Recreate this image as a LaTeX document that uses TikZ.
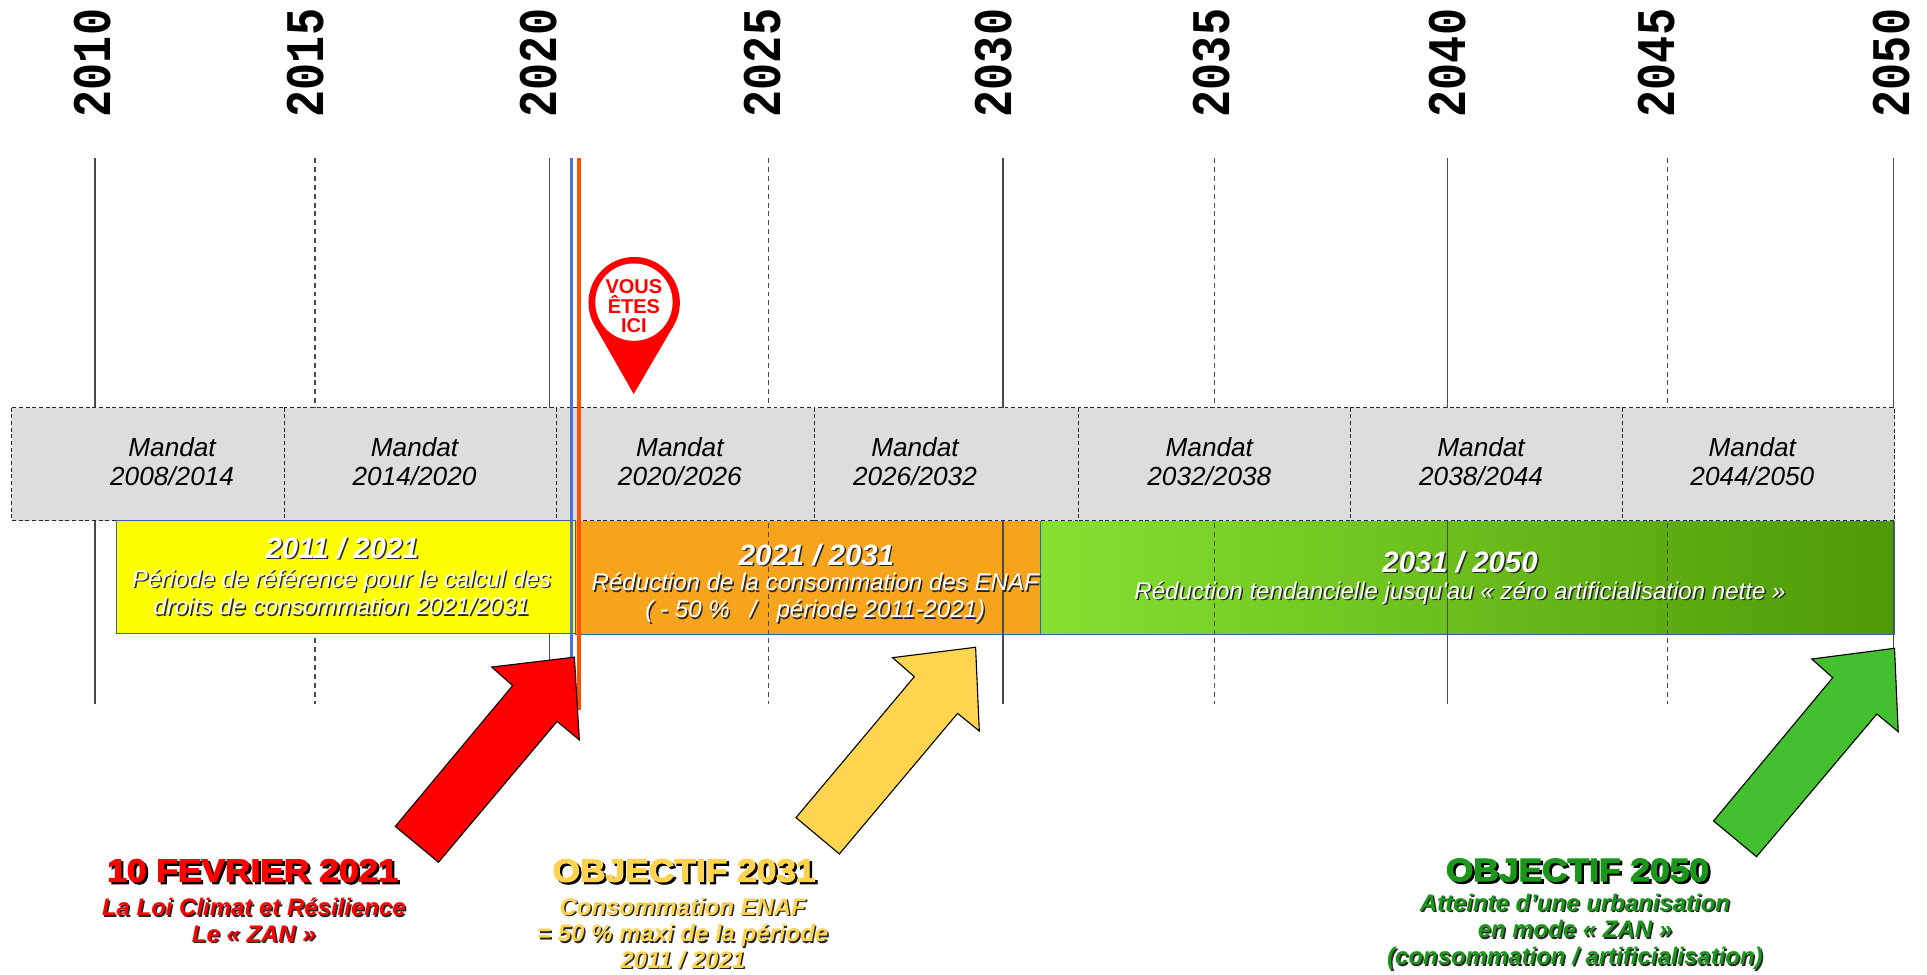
\documentclass[tikz,border=0pt]{standalone}
\usepackage{fontspec}
\setmainfont{Liberation Sans}
\newfontfamily\yearfam{Liberation Mono}
\newfontfamily\heavyfam{Liberation Sans Bold}[FakeBold=3.5]
\newcommand\setfs[2]{\fontsize{#1}{#2}\selectfont}
\definecolor{grayfill}{HTML}{DDDDDD}
\definecolor{ylw}{HTML}{FFFF00}
\definecolor{orng}{HTML}{F7A41D}
\definecolor{grnL}{HTML}{86E031}
\definecolor{grnR}{HTML}{4E9A06}
\definecolor{bordc}{HTML}{3465A4}
\definecolor{blueln}{HTML}{4A72E6}
\definecolor{orangeln}{HTML}{FF5000}
\definecolor{pinred}{HTML}{FF0000}
\definecolor{arrred}{HTML}{FF0000}
\definecolor{arrylw}{HTML}{FFD54F}
\definecolor{arrgrn}{HTML}{43BF30}
\definecolor{txtred}{HTML}{FF0000}
\definecolor{txtylw}{HTML}{FFD34E}
\definecolor{txtgrn}{HTML}{1A961A}
\definecolor{linec}{HTML}{4A4A4A}
\tikzset{
  yearlbl/.style={font=\yearfam\bfseries\setfs{22}{22}, rotate=90, xscale=0.83, inner sep=0pt},
  yline/.style={draw=linec, line width=0.6pt},
  ydash/.style={yline, dash pattern=on 2pt off 1.6pt},
  cell/.style={fill=grayfill, draw=black!85, line width=0.4pt, dash pattern=on 1.6pt off 1.1pt},
  mandat/.style={font=\itshape\setfs{10.6}{12}, align=center, inner sep=0pt},
  btitle/.style={font=\bfseries\itshape\setfs{11.9}{13}, text=white, inner sep=0pt},
  bsub/.style={font=\itshape\setfs{9.75}{11}, text=white, align=center, inner sep=0pt},
  shad/.style={text=black!85, xshift=0.6pt, yshift=-0.6pt},
  boxline/.style={draw=bordc, line width=0.4pt},
  blockarrow/.style={draw=black, line width=0.45pt, line join=miter},
  bigtitle/.style={font=\heavyfam\setfs{13}{13}, xscale=1.1, inner sep=0pt},
  bigsub/.style={font=\bfseries\itshape\setfs{9.7}{10.8}, align=center, inner sep=0pt},
  bigshad/.style={text=black, xshift=0.9pt, yshift=-0.9pt},
  pintext/.style={font=\bfseries\setfs{8.1}{7.8}, text=pinred, align=center, inner sep=0pt}
}
\begin{document}
\begin{tikzpicture}[x=0.5pt,y=-0.5pt]
\useasboundingbox (0,0) rectangle (1560,789);

% year labels
\foreach \yr/\xx in {2010/75,2015/247,2020/436,2025/617,2030/804,2035/981,2040/1172,2045/1341,2050/1531}
  \node[yearlbl] (y\yr) at (\xx,51) {\yr};

% orange and green period boxes (below the year lines)
\fill[orng] (466,421.5) rectangle (842,513.5);
\shade[left color=grnL, right color=grnR] (842,421.5) rectangle (1534,513.5);
\draw[boxline] (466,421.5) rectangle (842,513.5);
\draw[boxline] (842,421.5) rectangle (1534,513.5);

% year lines
\foreach \xx in {77,445,812,1172,1533}
  \draw[yline] (\xx,128) -- (\xx,570);
\foreach \xx in {255,622,983,1350}
  \draw[ydash] (\xx,128) -- (\xx,570);

% mandat cells
\foreach \a/\b in {9.4/230.3, 230.3/450.4, 450.4/659, 659/873, 873/1093, 1093/1313.4, 1313.4/1534}
  \draw[cell] (\a,330) rectangle (\b,421.5);

% yellow box
\filldraw[fill=ylw, boxline] (94,421.5) rectangle (466,513);

% today lines
\draw[draw=blueln, line width=1.25pt] (463,128) -- (463,532);
\draw[draw=orangeln, line width=1.5pt] (468.7,128) -- (468.7,575);

% mandat texts
\foreach \n/\xx/\t in {1/139.3/2008\slash 2014, 2/335.6/2014\slash 2020, 3/550.4/2020\slash 2026, 4/740.7/2026\slash 2032, 5/979/2032\slash 2038, 6/1199/2038\slash 2044, 7/1418.6/2044\slash 2050}
  \node[mandat] (m\n) at (\xx,373.8) {Mandat\\\t};

% box texts
\node[btitle, shad] at (277,443.5) {2011 / 2021};
\node[btitle] (t1) at (277,443.5) {2011 / 2021};
\node[bsub, shad] at (276.5,479.5) {Période de référence pour le calcul des\\droits de consommation 2021/2031};
\node[bsub] (s1) at (276.5,479.5) {Période de référence pour le calcul des\\droits de consommation 2021/2031};

\node[btitle, shad] at (661,449.3) {2021 / 2031};
\node[btitle] (t2) at (661,449.3) {2021 / 2031};
\node[bsub, shad] at (660,484) {Réduction de la consommation des ENAF\\( - 50 \%\ \ \ /\ \ \ période 2011-2021)};
\node[bsub] (s2) at (660,484) {Réduction de la consommation des ENAF\\( - 50 \%\ \ \ /\ \ \ période 2011-2021)};

\node[btitle, shad] at (1182,455) {2031 / 2050};
\node[btitle] (t3) at (1182,455) {2031 / 2050};
\node[bsub, shad] at (1182,480) {Réduction tendancielle jusqu\textquotesingle au « zéro artificialisation nette »};
\node[bsub] (s3) at (1182,480) {Réduction tendancielle jusqu\textquotesingle au « zéro artificialisation nette »};

% pin
\fill[pinred] (513.4,245) circle[radius=37];
\fill[pinred] (481.4,263.5) -- (513,319) -- (545.4,263.5) -- cycle;
\fill[white] (513.2,244.6) circle[radius=31.3];
\node[pintext] (pin) at (513.2,248) {VOUS\\ÊTES\\ICI};

% block arrows
\filldraw[fill=arrred, blockarrow] (465,532) -- (469,599) -- (451,584) -- (355,698) -- (320,669) -- (415,555) -- (398,540) -- cycle;
\filldraw[fill=arrylw, blockarrow] (789.8,524) -- (792.8,591.8) -- (775.2,577.5) -- (679.5,691.3) -- (644.4,661.9) -- (740.2,547.8) -- (722.6,532.4) -- cycle;
\filldraw[fill=arrgrn, blockarrow] (1533.7,524.8) -- (1536.7,592.3) -- (1519.4,578) -- (1422,693.5) -- (1387.2,664.6) -- (1483.7,548.6) -- (1466.7,533.5) -- cycle;

% bottom texts
\node[bigtitle, bigshad] at (204.5,704.8) {10 FEVRIER 2021};
\node[bigtitle, text=txtred] (b1) at (204.5,704.8) {10 FEVRIER 2021};
\node[bigsub, shad] at (205.5,745) {La Loi Climat et Résilience\\Le « ZAN »};
\node[bigsub, text=txtred] (c1) at (205.5,745) {La Loi Climat et Résilience\\Le « ZAN »};

\node[bigtitle, bigshad] at (553.8,704.8) {OBJECTIF 2031};
\node[bigtitle, text=txtylw] (b2) at (553.8,704.8) {OBJECTIF 2031};
\node[bigsub, shad] at (552.7,755.5) {Consommation ENAF\\= 50 \% maxi de la période\\2011 / 2021};
\node[bigsub, text=txtylw] (c2) at (552.7,755.5) {Consommation ENAF\\= 50 \% maxi de la période\\2011 / 2021};

\node[bigtitle, bigshad] at (1277,704.3) {OBJECTIF 2050};
\node[bigtitle, text=txtgrn] (b3) at (1277,704.3) {OBJECTIF 2050};
\node[bigsub, shad] at (1275,754.2) {Atteinte d’une urbanisation\\en mode « ZAN »\\(consommation / artificialisation)};
\node[bigsub, text=txtgrn] (c3) at (1275,754.2) {Atteinte d’une urbanisation\\en mode « ZAN »\\(consommation / artificialisation)};
\end{tikzpicture}
\end{document}
